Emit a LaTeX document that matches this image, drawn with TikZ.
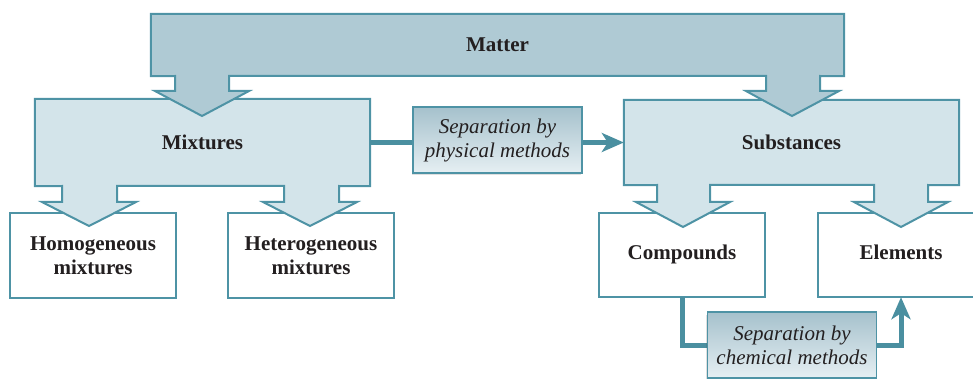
\documentclass[tikz,border=0pt]{standalone}
\usepackage{fontspec}
\setmainfont{Liberation Serif}
\usetikzlibrary{arrows.meta,shadows}
\definecolor{edgec}{HTML}{4E93A5}
\definecolor{linec}{HTML}{4A8FA0}
\definecolor{matterfill}{HTML}{AFCAD4}
\definecolor{subfill}{HTML}{D3E4EA}
\definecolor{labtop}{HTML}{A5C1CC}
\definecolor{labbot}{HTML}{E6EFF3}
\definecolor{txtc}{HTML}{231F20}
\pgfdeclarelayer{bg}
\pgfsetlayers{bg,main}
\tikzset{
  boxtext/.style={draw=none, text=txtc, font=\fontsize{21}{24}\selectfont\bfseries, align=center, inner sep=0pt},
  oneline/.style={text height=14pt, text depth=5pt},
  shapeline/.style={draw=edgec, line width=2pt, line join=miter},
  labelbox/.style={draw=edgec, line width=1.6pt, top color=labtop, bottom color=labbot, text=txtc,
    font=\fontsize{21}{24}\selectfont\itshape, align=center, inner sep=0pt,
    drop shadow={opacity=0.18, shadow xshift=-1.5pt, shadow yshift=-2.5pt, fill=black!70}},
  conn/.style={draw=linec, line width=5pt},
  connarrow/.style={conn, -{Stealth[length=22pt,width=19pt,inset=6pt]}}
}
\begin{document}
\begin{tikzpicture}[x=1pt,y=-1pt]
\useasboundingbox (0,0) rectangle (973,379);
\clip (0,0) rectangle (973,379);
% text nodes (boxes drawn on the background layer)
\node[boxtext, minimum width=693pt, minimum height=62pt] (matter) at (497.5,45) {Matter};
\node[boxtext, minimum width=335pt, minimum height=87pt] (mix) at (202.5,142.5) {Mixtures};
\node[boxtext, minimum width=335pt, minimum height=85pt] (sub) at (791.5,142.5) {Substances};
\node[boxtext, minimum width=166pt, minimum height=85pt] (homo) at (93,255.5) {Homogeneous\\mixtures};
\node[boxtext, minimum width=166pt, minimum height=85pt] (hetero) at (311,255.5) {Heterogeneous\\mixtures};
\node[boxtext, oneline, minimum width=166pt, minimum height=84pt] (comp) at (682,255) {Compounds};
\node[boxtext, oneline, minimum width=166pt, minimum height=84pt] (elem) at (901,255) {Elements};
\node[labelbox, minimum width=169pt, minimum height=66pt] (phys) at (497.5,140) {Separation by\\physical methods};
\node[labelbox, minimum width=169pt, minimum height=66pt] (chem) at (792,345) {Separation by\\chemical methods};
\begin{pgfonlayer}{bg}
  % lower white boxes
  \path[shapeline, fill=white] (homo.north west) rectangle (homo.south east);
  \path[shapeline, fill=white] (hetero.north west) rectangle (hetero.south east);
  \path[shapeline, fill=white] (comp.north west) rectangle (comp.south east);
  \path[shapeline, fill=white] (elem.north west) rectangle (elem.south east);
  % Mixtures with its two arrows
  \path[shapeline, fill=subfill] (mix.north west) -- (mix.north east) -- (mix.south east)
    -- (339,186) -- (339,202) -- (357,202) -- (310,226) -- (263,202) -- (284,202) -- (284,186)
    -- (117,186) -- (117,202) -- (136,202) -- (89,226) -- (42,202) -- (62,202) -- (62,186)
    -- (mix.south west) -- cycle;
  % Substances with its two arrows
  \path[shapeline, fill=subfill] (sub.north west) -- (sub.north east) -- (sub.south east)
    -- (928,185) -- (928,202) -- (948,202) -- (901,227) -- (854,202) -- (874,202) -- (874,185)
    -- (710,185) -- (710,202) -- (730,202) -- (683,227) -- (636,202) -- (657,202) -- (657,185)
    -- (sub.south west) -- cycle;
  % Matter with its two arrows
  \path[shapeline, fill=matterfill] (matter.north west) -- (matter.north east) -- (matter.south east)
    -- (820,76) -- (820,91) -- (839,91) -- (792,116) -- (746,91) -- (766,91) -- (766,76)
    -- (229,76) -- (229,91) -- (249,91) -- (202,116) -- (155,91) -- (175,91) -- (175,76)
    -- (matter.south west) -- cycle;
  % connectors
  \draw[conn] (mix.east) -- (phys.west |- mix.east);
  \draw[connarrow] (phys.east |- sub.west) -- (sub.west);
  \draw[conn] (comp.south) |- (chem.west);
  \draw[connarrow] (chem.east) -| (elem.south);
\end{pgfonlayer}
\end{tikzpicture}
\end{document}
